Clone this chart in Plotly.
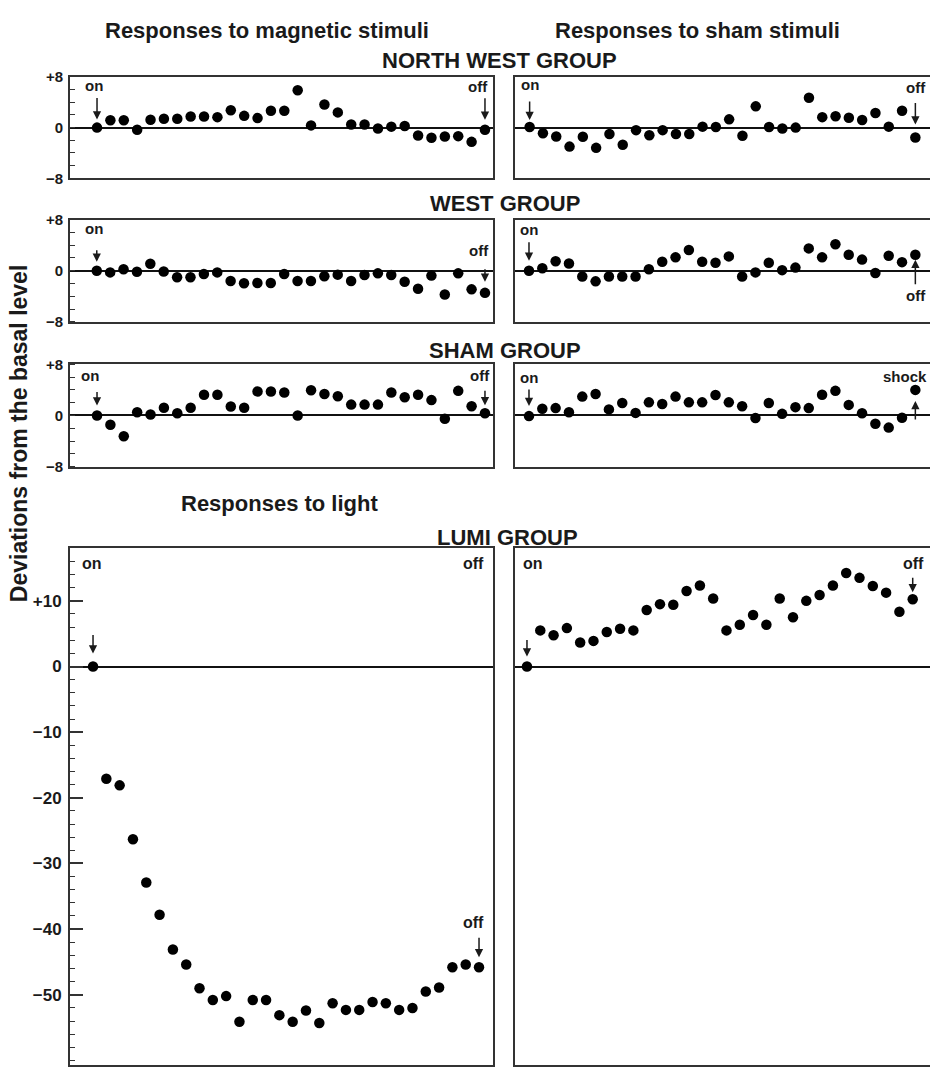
import plotly.graph_objects as go

# ---------------- data ----------------
idx = list(range(30))

nw_magnetic = [0, 1.15, 1.15, -0.35, 1.25, 1.4, 1.4, 1.75, 1.75, 1.65, 2.75, 1.85, 1.5, 2.65, 2.65,
               5.9, 0.35, 3.65, 2.4, 0.5, 0.5, -0.15, 0.15, 0.25, -1.25, -1.6, -1.4, -1.35, -2.25, -0.35]
nw_sham = [0.1, -0.9, -1.4, -3.0, -1.45, -3.2, -1.0, -2.7, -0.4, -1.2, -0.4, -1.0, -1.0, 0.15, 0.1,
           1.3, -1.3, 3.35, 0.1, -0.15, 0.0, 4.7, 1.65, 1.8, 1.55, 1.2, 2.3, 0.15, 2.65, -1.55]
west_magnetic = [0, -0.25, 0.25, -0.15, 1.1, -0.1, -1.0, -1.0, -0.5, -0.25, -1.6, -1.95, -1.9, -1.9, -0.5,
                 -1.6, -1.6, -0.85, -0.6, -1.6, -0.65, -0.4, -0.65, -1.7, -2.8, -0.75, -3.7, -0.4, -2.9, -3.45]
west_sham = [0, 0.4, 1.5, 1.15, -0.9, -1.65, -0.9, -0.9, -0.9, 0.25, 1.4, 2.1, 3.25, 1.4, 1.25,
             2.25, -0.9, -0.25, 1.25, 0.1, 0.5, 3.5, 2.1, 4.15, 2.5, 1.75, -0.35, 2.35, 1.35, 2.5]
sham_magnetic = [0, -1.45, -3.25, 0.5, 0.15, 1.2, 0.35, 1.2, 3.25, 3.25, 1.4, 1.2, 3.75, 3.75, 3.6,
                 0, 3.95, 3.35, 3.0, 1.7, 1.7, 1.7, 3.6, 2.85, 3.25, 2.4, -0.5, 3.85, 1.45, 0.35]
sham_sham = [-0.1, 1.05, 1.15, 0.5, 2.95, 3.35, 0.95, 1.95, 0.4, 2.05, 1.8, 2.95, 2.05, 2.05, 3.2,
             2.05, 1.45, -0.4, 1.95, 0.25, 1.3, 1.15, 3.25, 3.85, 1.65, 0.35, -1.3, -1.9, -0.35, 4.0]
lumi_light = [0, -17.1, -18.1, -26.3, -32.9, -37.8, -43.1, -45.4, -49.0, -50.8, -50.2, -54.1, -50.8, -50.8, -53.1,
              -54.1, -52.4, -54.3, -51.3, -52.3, -52.3, -51.1, -51.3, -52.3, -52.0, -49.5, -48.9, -45.8, -45.4, -45.8]
lumi_sham = [0, 5.5, 4.75, 5.85, 3.65, 3.9, 5.25, 5.75, 5.5, 8.6, 9.5, 9.4, 11.5, 12.35, 10.35,
             5.5, 6.35, 7.85, 6.35, 10.35, 7.5, 10.0, 10.9, 12.35, 14.25, 13.5, 12.25, 11.25, 8.35, 10.25]

small_tickvals = [-8, 0, 8]
small_ticktext = ["\u22128", "0", "+8"]
lumi_tickvals = [-50, -40, -30, -20, -10, 0, 10]
lumi_ticktext = ["\u221250", "\u221240", "\u221230", "\u221220", "\u221210", "0", "+10"]

column_titles = ["Responses to magnetic stimuli", "Responses to sham stimuli"]
group_titles = ["NORTH WEST GROUP", "WEST GROUP", "SHAM GROUP", "LUMI GROUP"]
light_title = "Responses to light"
y_title = "Deviations from the basal level"

# ---------------- layout helpers ----------------
W, H = 930, 1075
FONT = "Liberation Sans, Arial, Helvetica, sans-serif"
INK = "#1a1a1a"


def px(x):
    return x / W


def py(y):
    return 1 - y / H


panels = [
    # (series, left?, lumi?, xdom px, ydom px, xrange, yrange)
    (nw_magnetic, True, False, (70, 493), (69, 172), (-2.02, 29.6), (-8, 8)),
    (nw_sham, False, False, (515, 930), (69, 172), (-1.1, 30.1), (-8, 8)),
    (west_magnetic, True, False, (70, 493), (214, 318), (-2.0, 29.6), (-8, 8)),
    (west_sham, False, False, (515, 930), (214, 318), (-1.05, 30.1), (-8, 8)),
    (sham_magnetic, True, False, (70, 493), (361, 465), (-2.02, 29.6), (-8, 8)),
    (sham_sham, False, False, (515, 930), (361, 465), (-1.05, 30.1), (-8, 8)),
    (lumi_light, True, True, (70, 493), (548, 1073), (-1.73, 30.05), (-60.7, 18)),
    (lumi_sham, False, True, (515, 930), (548, 1073), (-0.9, 30.3), (-60.7, 18)),
]

fig = go.Figure()
layout_axes = {}
for i, (ys, left, lumi, xd, yd, xr, yr) in enumerate(panels, start=1):
    xa = "x" if i == 1 else f"x{i}"
    ya = "y" if i == 1 else f"y{i}"
    fig.add_trace(go.Scatter(
        x=idx, y=ys, mode="markers", xaxis=xa, yaxis=ya,
        marker=dict(size=10.5, color="black"), showlegend=False, hoverinfo="x+y"))
    xkey = "xaxis" if i == 1 else f"xaxis{i}"
    ykey = "yaxis" if i == 1 else f"yaxis{i}"
    layout_axes[xkey] = dict(
        domain=[px(xd[0]), px(xd[1])], range=list(xr), anchor=ya,
        showline=True, mirror=True, linecolor="#333", linewidth=2,
        showgrid=False, zeroline=False, showticklabels=False, ticks="")
    yax = dict(
        domain=[py(yd[1]), py(yd[0])], range=list(yr), anchor=xa,
        showline=True, mirror=left, linecolor="#333", linewidth=2,
        showgrid=False, zeroline=True, zerolinecolor="#111", zerolinewidth=1.6)
    if left:
        if lumi:
            yax.update(tickmode="array", tickvals=lumi_tickvals, ticktext=lumi_ticktext,
                       ticks="inside", ticklen=13, tickwidth=1.5, tickcolor="#333",
                       ticklabelstandoff=3,
                       tickfont=dict(family=FONT, size=17, color=INK, weight="bold"),
                       minor=dict(tickmode="linear", tick0=0, dtick=2, ticks="inside",
                                  ticklen=5, tickwidth=1.2, tickcolor="#333"))
        else:
            yax.update(tickmode="array", tickvals=small_tickvals, ticktext=small_ticktext,
                       ticks="", ticklabelstandoff=2,
                       tickfont=dict(family=FONT, size=15, color=INK, weight="bold"),
                       minor=dict(tickmode="linear", tick0=0, dtick=2, ticks="inside",
                                  ticklen=5, tickwidth=1.2, tickcolor="#333"))
    else:
        yax.update(showticklabels=False, ticks="")
    layout_axes[ykey] = yax

fig.update_layout(**layout_axes)

ann = []
# titles
tfont = dict(family=FONT, size=22, color=INK, weight="bold")
ann.append(dict(text=column_titles[0], x=px(267), y=py(22), xref="paper", yref="paper",
                showarrow=False, font=tfont, xanchor="center", yanchor="middle"))
ann.append(dict(text=column_titles[1], x=px(697), y=py(22), xref="paper", yref="paper",
                showarrow=False, font=tfont, xanchor="center", yanchor="middle"))
for t, yy, xx in zip(group_titles, [52, 198, 347, 537], [500, 505, 505, 507]):
    ann.append(dict(text=t, x=px(xx), y=py(yy), xref="paper", yref="paper",
                    showarrow=False, font=tfont, xanchor="center", yanchor="middle"))
ann.append(dict(text=light_title, x=px(279), y=py(502), xref="paper", yref="paper",
                showarrow=False, font=tfont, xanchor="center", yanchor="middle"))
ann.append(dict(text=y_title, x=px(19), y=py(432), xref="paper", yref="paper",
                showarrow=False, textangle=-90,
                font=dict(family=FONT, size=23, color=INK, weight="bold"),
                xanchor="center", yanchor="middle"))

# on / off markers
lfont = dict(family=FONT, size=15, color=INK, weight="bold")
lfont_big = dict(family=FONT, size=16, color=INK, weight="bold")


def label(ax_i, xi, yv, text, dx, dy, font=lfont, anchor="center"):
    a = "" if ax_i == 1 else str(ax_i)
    ann.append(dict(text=text, x=xi, y=yv, xref="x" + a, yref="y" + a, showarrow=False,
                    xshift=dx, yshift=dy, font=font, xanchor=anchor, yanchor="middle"))


def arrow(ax_i, xi, yv, ay, standoff):
    a = "" if ax_i == 1 else str(ax_i)
    ann.append(dict(text="", x=xi, y=yv, xref="x" + a, yref="y" + a, showarrow=True,
                    ax=0, ay=ay, standoff=standoff, arrowhead=2, arrowsize=1.1,
                    arrowwidth=1.5, arrowcolor=INK))


series = [p[0] for p in panels]
# NW
label(1, 0, series[0][0], "on", -3, 42); arrow(1, 0, series[0][0], -31, 8)
label(1, 29, series[0][29], "off", -7, 43); arrow(1, 29, series[0][29], -33, 10)
label(2, 0, series[1][0], "on", 0, 42); arrow(2, 0, series[1][0], -27, 7)
label(2, 29, 0, "off", 1, 40); arrow(2, 29, 0, -26, 3)
# WEST
label(3, 0, series[2][0], "on", -3, 42); arrow(3, 0, series[2][0], -22, 9)
label(3, 29, series[2][29], "off", -6, 42); arrow(3, 29, series[2][29], -25, 11)
label(4, 0, series[3][0], "on", 0, 41); arrow(4, 0, series[3][0], -30, 10)
label(4, 29, series[3][29], "off", 1, -41); arrow(4, 29, series[3][29], 31, 5)
# SHAM
label(5, 0, series[4][0], "on", -7, 40); arrow(5, 0, series[4][0], -25, 10)
label(5, 29, series[4][29], "off", -5, 38); arrow(5, 29, series[4][29], -24, 8)
label(6, 0, series[5][0], "on", 0, 39); arrow(6, 0, series[5][0], -28, 10)
label(6, 29, series[5][29], "shock", 14, 13, lfont, "right"); arrow(6, 29, series[5][29], 31, 11)
# LUMI
label(7, 0, 15.7, "on", -1, 0, lfont_big); arrow(7, 0, series[6][0], -33, 13)
label(7, 29, 15.7, "off", -6, 0, lfont_big)
label(7, 29, series[6][29], "off", -6, 45, lfont_big); arrow(7, 29, series[6][29], -31, 10)
label(8, 0, 15.7, "on", 6, 0, lfont_big); arrow(8, 0, series[7][0], -28, 10)
label(8, 29, 15.7, "off", 1, 0, lfont_big); arrow(8, 29, series[7][29], -23, 7)

fig.update_layout(
    annotations=ann, width=W, height=H,
    margin=dict(l=0, r=0, t=0, b=0),
    paper_bgcolor="white", plot_bgcolor="white",
    font=dict(family=FONT, color=INK), showlegend=False)

fig.write_html("out.html")
